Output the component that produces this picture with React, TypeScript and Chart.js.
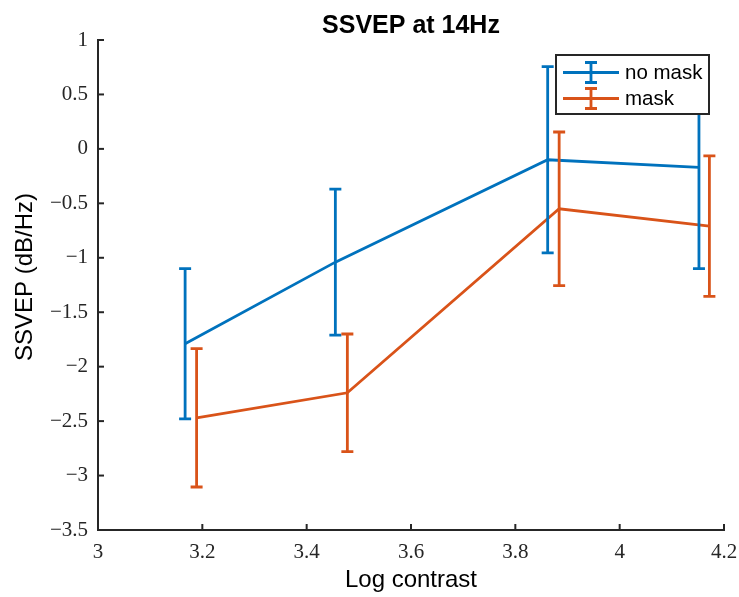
import React, { useEffect, useRef } from 'react';
import { Chart, registerables } from 'chart.js';

Chart.register(...registerables);

const chartTitle = 'SSVEP at 14Hz';
const xAxisLabel = 'Log contrast';
const yAxisLabel = 'SSVEP (dB/Hz)';
const seriesLabels = ['no mask', 'mask'];
const seriesColors = ['#0072BD', '#D95319'];

const noMaskX = [3.167, 3.455, 3.862, 4.152];
const noMaskY = [-1.79, -1.04, -0.1, -0.17];
const noMaskErr = [0.69, 0.67, 0.855, 0.93];

const maskX = [3.189, 3.478, 3.884, 4.172];
const maskY = [-2.47, -2.24, -0.55, -0.71];
const maskErr = [0.635, 0.54, 0.705, 0.645];

const xTickValues = [3, 3.2, 3.4, 3.6, 3.8, 4, 4.2];
const yTickValues = [-3.5, -3, -2.5, -2, -1.5, -1, -0.5, 0, 0.5, 1];

const seriesX = [noMaskX, maskX];
const seriesY = [noMaskY, maskY];
const seriesErr = [noMaskErr, maskErr];

const AXIS_COLOR = '#262626';
const SANS = '"Liberation Sans", Arial, Helvetica, sans-serif';
const SERIF = '"Liberation Serif", "Times New Roman", serif';
const LINE_W = 2.8;

const fmt = (v: number) => {
  const n = Math.round(v * 10) / 10;
  const s = String(Math.abs(n));
  return n < 0 ? '\u2212' + s : s;
};

const customPlugin = {
  id: 'customDecor',
  afterDatasetsDraw(chart: any) {
    const { ctx, scales } = chart;
    const xs = scales.x;
    const ys = scales.y;
    chart.data.datasets.forEach((ds: any, di: number) => {
      const errs = seriesErr[di];
      ctx.save();
      ctx.strokeStyle = ds.borderColor;
      ctx.lineWidth = LINE_W;
      ds.data.forEach((p: any, i: number) => {
        const px = xs.getPixelForValue(p.x);
        const top = ys.getPixelForValue(p.y + errs[i]);
        const bot = ys.getPixelForValue(p.y - errs[i]);
        ctx.beginPath();
        ctx.moveTo(px, top);
        ctx.lineTo(px, bot);
        ctx.moveTo(px - 6, top);
        ctx.lineTo(px + 6, top);
        ctx.moveTo(px - 6, bot);
        ctx.lineTo(px + 6, bot);
        ctx.stroke();
      });
      ctx.restore();
    });
  },
  afterDraw(chart: any) {
    const { ctx, chartArea, scales } = chart;
    const xs = scales.x;
    const ys = scales.y;
    ctx.save();
    // inward tick marks
    ctx.strokeStyle = AXIS_COLOR;
    ctx.lineWidth = 2;
    xs.ticks.forEach((t: any) => {
      const px = xs.getPixelForValue(t.value);
      ctx.beginPath();
      ctx.moveTo(px, chartArea.bottom);
      ctx.lineTo(px, chartArea.bottom - 6);
      ctx.stroke();
    });
    ys.ticks.forEach((t: any) => {
      const py = ys.getPixelForValue(t.value);
      ctx.beginPath();
      ctx.moveTo(chartArea.left, py);
      ctx.lineTo(chartArea.left + 6, py);
      ctx.stroke();
    });

    // title
    ctx.fillStyle = '#000';
    ctx.font = `bold 25px ${SANS}`;
    ctx.textAlign = 'center';
    ctx.textBaseline = 'alphabetic';
    ctx.fillText(chartTitle, (chartArea.left + chartArea.right) / 2, 33);

    // y label
    ctx.save();
    ctx.translate(32, 277);
    ctx.rotate(-Math.PI / 2);
    ctx.font = `24px ${SANS}`;
    ctx.fillStyle = '#000';
    ctx.textAlign = 'center';
    ctx.textBaseline = 'alphabetic';
    ctx.fillText(yAxisLabel, 0, 0);
    ctx.restore();

    // legend
    const bw = 153;
    const bh = 59;
    const bx = chartArea.right - 15 - bw;
    const by = chartArea.top + 15;
    ctx.fillStyle = '#fff';
    ctx.fillRect(bx, by, bw, bh);
    ctx.strokeStyle = AXIS_COLOR;
    ctx.lineWidth = 2;
    ctx.strokeRect(bx, by, bw, bh);
    chart.data.datasets.forEach((ds: any, i: number) => {
      const cy = by + 17.5 + i * 26;
      ctx.strokeStyle = ds.borderColor;
      ctx.lineWidth = LINE_W;
      ctx.beginPath();
      ctx.moveTo(bx + 7, cy);
      ctx.lineTo(bx + 63, cy);
      const cx = bx + 35;
      ctx.moveTo(cx, cy - 10);
      ctx.lineTo(cx, cy + 10);
      ctx.moveTo(cx - 6, cy - 10);
      ctx.lineTo(cx + 6, cy - 10);
      ctx.moveTo(cx - 6, cy + 10);
      ctx.lineTo(cx + 6, cy + 10);
      ctx.stroke();
      ctx.fillStyle = '#000';
      ctx.font = `20.5px ${SANS}`;
      ctx.textAlign = 'left';
      ctx.textBaseline = 'middle';
      ctx.fillText(ds.label, bx + 69, cy + 1);
    });
    ctx.restore();
  },
};

export default function App() {
  const canvasRef = useRef<HTMLCanvasElement | null>(null);

  useEffect(() => {
    if (!canvasRef.current) return;
    const datasets = seriesLabels.map((label, di) => ({
      label,
      data: seriesX[di].map((x, i) => ({ x, y: seriesY[di][i] })),
      borderColor: seriesColors[di],
      backgroundColor: seriesColors[di],
      borderWidth: LINE_W,
      pointRadius: 0,
      tension: 0,
      fill: false,
      order: 2 - di,
    }));

    const chart = new Chart(canvasRef.current, {
      type: 'line',
      data: { datasets },
      options: {
        responsive: false,
        animation: false,
        layout: { padding: { top: 40, right: 15, left: 0, bottom: 0 } },
        plugins: {
          legend: { display: false },
          title: { display: false },
          tooltip: { enabled: false },
        },
        scales: {
          x: {
            type: 'linear',
            min: 3,
            max: 4.2,
            afterBuildTicks: (scale: any) => {
              scale.ticks = xTickValues.map((v) => ({ value: v }));
            },
            afterFit: (scale: any) => {
              scale.height = 67;
              scale.paddingLeft = 0;
              scale.paddingRight = 0;
            },
            grid: { display: false, drawTicks: false },
            border: { display: true, color: AXIS_COLOR, width: 2 },
            ticks: {
              autoSkip: false,
              maxRotation: 0,
              padding: 10,
              color: AXIS_COLOR,
              font: { family: SERIF, size: 21 },
              callback: (v: any) => fmt(Number(v)),
            },
            title: {
              display: true,
              text: xAxisLabel,
              color: '#000',
              font: { family: SANS, size: 24 },
              padding: { top: 0, bottom: 2 },
            },
          },
          y: {
            type: 'linear',
            min: -3.5,
            max: 1,
            afterBuildTicks: (scale: any) => {
              scale.ticks = yTickValues.map((v) => ({ value: v }));
            },
            afterFit: (scale: any) => {
              scale.width = 98;
              scale.paddingTop = 0;
              scale.paddingBottom = 0;
            },
            grid: { display: false, drawTicks: false },
            border: { display: true, color: AXIS_COLOR, width: 2 },
            ticks: {
              autoSkip: false,
              padding: 10,
              color: AXIS_COLOR,
              font: { family: SERIF, size: 21 },
              callback: (v: any) => fmt(Number(v)),
            },
          },
        },
      },
      plugins: [customPlugin],
    });
    return () => chart.destroy();
  }, []);

  return (
    <div style={{ position: 'fixed', left: 0, top: 0, width: 739, height: 597, background: '#fff' }}>
      <canvas ref={canvasRef} width={739} height={597} style={{ display: 'block' }} />
    </div>
  );
}
